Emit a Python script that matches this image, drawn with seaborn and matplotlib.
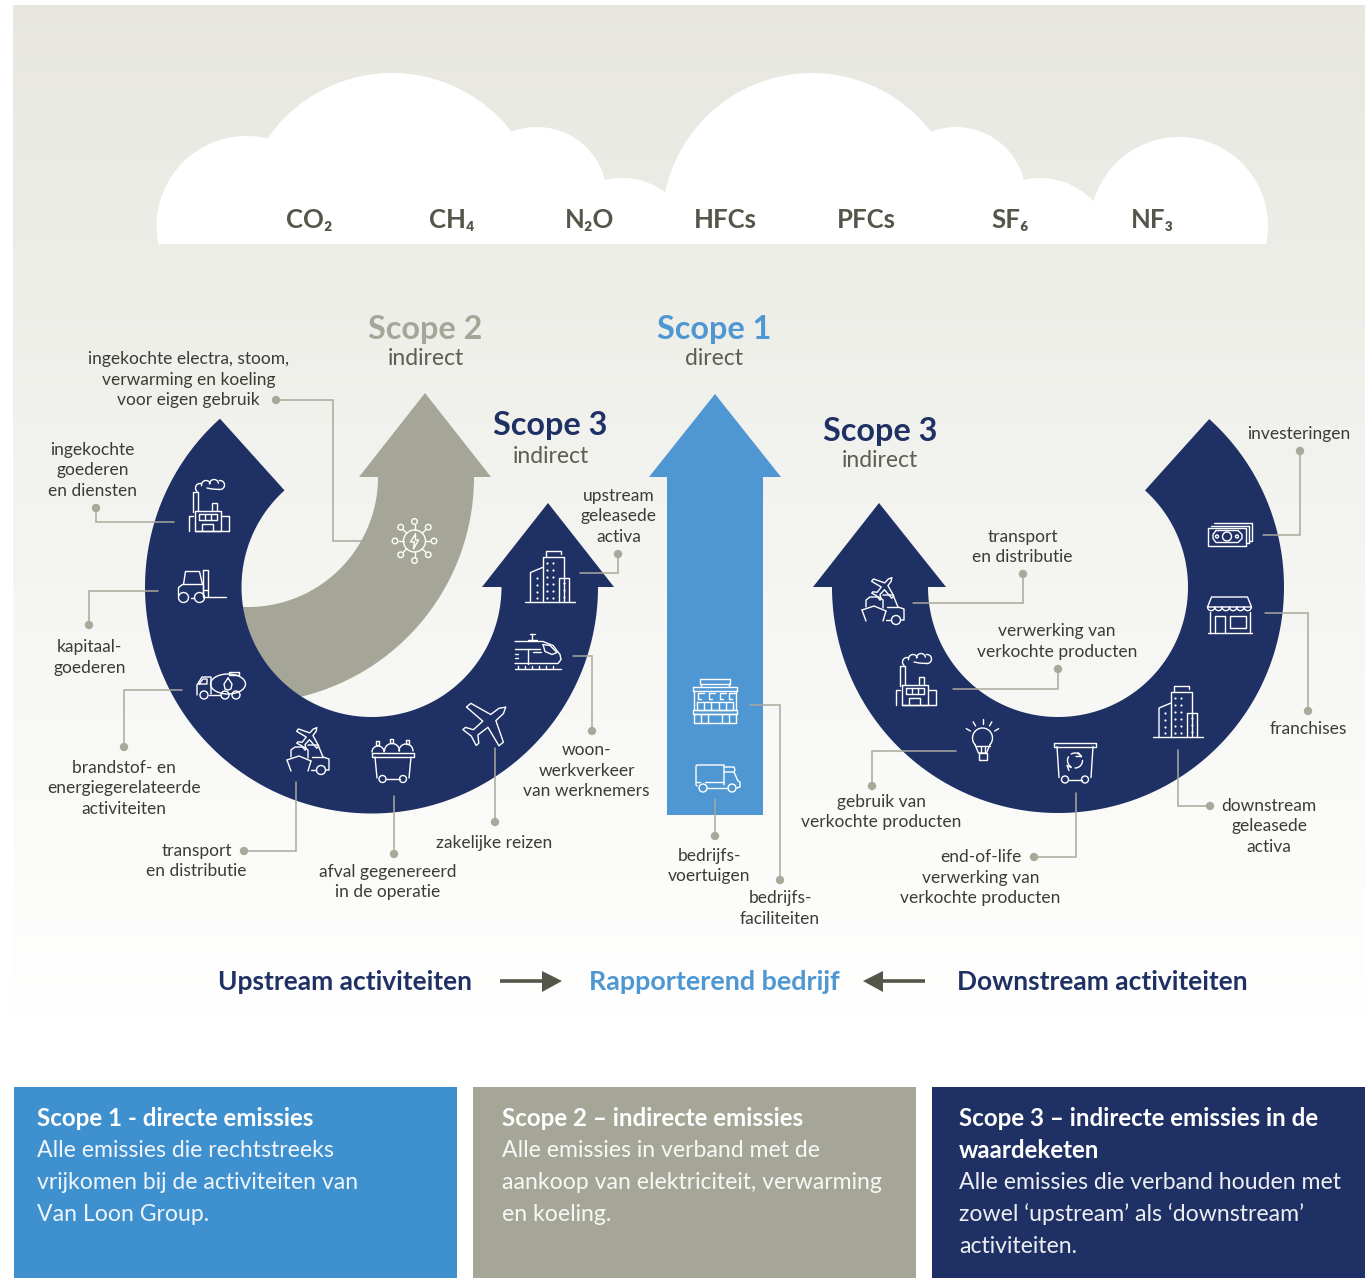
import numpy as np
import matplotlib
matplotlib.use("Agg")
import matplotlib.pyplot as plt
from matplotlib.patches import Polygon, Circle, Rectangle, Ellipse
import seaborn as sns

# data
gases = ["CO₂", "CH₄", "N₂O", "HFCs", "PFCs", "SF₆", "NF₃"]
scope_titles = ["Scope 2", "Scope 1", "Scope 3", "Scope 3"]
scope_subs = ["indirect", "direct", "indirect", "indirect"]
flow_labels = ["Upstream activiteiten", "Rapporterend bedrijf", "Downstream activiteiten"]

item_labels = [
    "ingekochte electra, stoom,\nverwarming en koeling\nvoor eigen gebruik",
    "ingekochte\ngoederen\nen diensten",
    "kapitaal-\ngoederen",
    "brandstof- en\nenergiegerelateerde\nactiviteiten",
    "transport\nen distributie",
    "afval gegenereerd\nin de operatie",
    "zakelijke reizen",
    "woon-\nwerkverkeer\nvan werknemers",
    "upstream\ngeleasede\nactiva",
    "bedrijfs-\nvoertuigen",
    "bedrijfs-\nfaciliteiten",
    "transport\nen distributie",
    "verwerking van\nverkochte producten",
    "gebruik van\nverkochte producten",
    "end-of-life\nverwerking van\nverkochte producten",
    "downstream\ngeleasede\nactiva",
    "franchises",
    "investeringen",
]

panel_titles = [
    ["Scope 1 - directe emissies"],
    ["Scope 2 – indirecte emissies"],
    ["Scope 3 – indirecte emissies in de", "waardeketen"],
]
panel_bodies = [
    ["Alle emissies die rechtstreeks", "vrijkomen bij de activiteiten van", "Van Loon Group."],
    ["Alle emissies in verband met de", "aankoop van elektriciteit, verwarming", "en koeling."],
    ["Alle emissies die verband houden met", "zowel ‘upstream’ als ‘downstream’", "activiteiten."],
]

NAVY = "#1F3064"
GREY = "#A6A698"
BLUE = "#4F97D3"
PANEL_BLUE = "#3F90CE"
DARK = "#55554A"
TEXT = "#3C3C36"
LEAD = "#A9A99B"

sns.set_theme(style="white")
plt.rcParams["font.family"] = ["Lato", "DejaVu Sans"]

W, H = 1365, 1278
fig = plt.figure(figsize=(W / 100, H / 100), dpi=100, facecolor="white")

# achtergrond verloop
ax_bg = fig.add_axes([13 / W, 1 - 1040 / H, (W - 13) / W, 1035 / H])
sns.heatmap(np.linspace(0, 1, 256)[:, None], ax=ax_bg, cbar=False, vmin=0, vmax=1,
            xticklabels=False, yticklabels=False,
            cmap=sns.blend_palette(["#E7E7E0", "#FFFFFF"], as_cmap=True))

ax = fig.add_axes([0, 0, 1, 1])
ax.set_xlim(0, W)
ax.set_ylim(H, 0)
ax.axis("off")
ax.patch.set_alpha(0)


def fill(pts, color, z=2):
    ax.add_patch(Polygon(pts, closed=True, facecolor=color, edgecolor="none", zorder=z))


def ring_pts(cx, cy, r0, r1, a0, a1):
    t = np.radians(np.linspace(a0, a1, 200))
    outer = np.c_[cx + r1 * np.cos(t), cy + r1 * np.sin(t)]
    inner = np.c_[cx + r0 * np.cos(t[::-1]), cy + r0 * np.sin(t[::-1])]
    return np.vstack([outer, inner])


# wolk
clip = Rectangle((0, 0), W, 244, transform=ax.transData)
for cx, cy, r in [(246.5, 226, 90), (392, 224, 151), (537, 197, 70), (622, 251, 73),
                  (812, 223, 150), (956, 197, 70), (1040, 251, 73), (1179, 226, 89)]:
    c = Circle((cx, cy), r, facecolor="white", edgecolor="none", zorder=1)
    ax.add_patch(c)
    c.set_clip_path(clip)
ax.add_patch(Rectangle((246, 205), 932, 39, facecolor="white", edgecolor="none", zorder=1))

for name, x in zip(gases, [309, 452, 589.5, 725, 866.5, 1010, 1152]):
    ax.text(x, 220, name, ha="center", va="center", fontsize=18.5, color=DARK, weight="bold", zorder=5)

# pijlen
fill(ring_pts(248, 477, 130, 226, 0, 100), GREY, 2)
fill([(359, 477), (425, 393), (491, 477)], GREY, 2)

fill(ring_pts(371.5, 587, 130, 226.5, 0, 228), NAVY, 3)
fill([(482, 587), (548, 503), (614, 587)], NAVY, 3)

fill(ring_pts(1058, 587, 130, 226, -48, 180), NAVY, 3)
fill([(813, 587), (879, 503), (946, 587)], NAVY, 3)

fill([(667, 815), (667, 477), (649, 477), (715, 394), (781, 477), (763, 477), (763, 815)], BLUE, 3)

# titels
for title, sub, col, (x, y0, y1) in zip(
        scope_titles, scope_subs, [GREY, BLUE, NAVY, NAVY],
        [(425.5, 329, 358.5), (714.5, 329, 358.5), (550.5, 426, 456.5), (880, 431, 460.5)]):
    ax.text(x, y0, title, ha="center", va="center", fontsize=23.3, color=col, weight="bold", zorder=5)
    ax.text(x, y1, sub, ha="center", va="center", fontsize=16.5, color="#5E5E52", zorder=5)

# labels
label_xy = [(188.5, 359), (92.5, 450), (89.5, 647), (124, 768), (196.5, 851), (387.5, 872),
            (494, 843), (586.5, 750), (618.5, 496), (709.5, 856), (780, 898), (1022.5, 537),
            (1057, 631), (881.5, 802), (980.5, 857), (1269, 806), (1308, 729), (1299, 434)]
for lab, (x, y) in zip(item_labels, label_xy):
    for i, line in enumerate(lab.split("\n")):
        ax.text(x, y + i * 20.5, line, ha="center", va="center", fontsize=12.55, color=TEXT, zorder=5)

# verbindingslijnen, eerste punt is de stip
leaders = [
    [(276, 400), (333, 400), (333, 541), (362, 541)],
    [(96, 508), (96, 522), (174, 522)],
    [(89, 625), (89, 591), (158, 591)],
    [(124, 747), (124, 690), (182, 690)],
    [(244, 851), (296, 851), (296, 782)],
    [(394, 854), (394, 796)],
    [(495, 822), (495, 748)],
    [(592, 731), (592, 656), (573, 656)],
    [(618, 554), (618, 573), (580, 573)],
    [(715, 836), (715, 799)],
    [(780, 880), (780, 705), (750, 705)],
    [(1023, 574), (1023, 603), (913, 603)],
    [(1058, 669), (1058, 689), (953, 689)],
    [(872, 786), (872, 751), (956, 751)],
    [(1034, 857), (1076, 857), (1076, 793)],
    [(1210, 806), (1178, 806), (1178, 750)],
    [(1308, 711), (1308, 613), (1265, 613)],
    [(1300, 451), (1300, 535), (1263, 535)],
]
for pts in leaders:
    xs, ys = zip(*pts)
    ax.plot(xs, ys, color=LEAD, lw=1.1, zorder=6, solid_joinstyle="miter")
    ax.add_patch(Circle(pts[0], 4.2, facecolor=LEAD, edgecolor="none", zorder=6))


# iconen
def ln(o, *pts, color="white", lw=1.0):
    xs = [o[0] + p[0] for p in pts]
    ys = [o[1] + p[1] for p in pts]
    ax.plot(xs, ys, color=color, lw=lw, zorder=7, solid_capstyle="round", solid_joinstyle="round")


def box(o, x0, y0, x1, y1):
    ln(o, (x0, y0), (x1, y0), (x1, y1), (x0, y1), (x0, y0))


def circ(o, x, y, r):
    ax.add_patch(Circle((o[0] + x, o[1] + y), r, fill=False, edgecolor="white", lw=1.0, zorder=7))


def arc(o, x, y, r, a0, a1):
    t = np.radians(np.linspace(a0, a1, 30))
    ln(o, *zip(x + r * np.cos(t), y + r * np.sin(t)))


def dots(o, pts):
    ax.scatter([o[0] + p[0] for p in pts], [o[1] + p[1] for p in pts], s=2.5, color="white", lw=0, zorder=7)


def plane(o, scale=1.0, rot=-38):
    shape = np.array([(20, 0), (15, -3), (6, -3.5), (-1, -22), (-6, -22), (-3, -3.5), (-14, -3), (-18, -9),
                      (-21, -9), (-19, 0), (-21, 9), (-18, 9), (-14, 3), (-3, 3.5), (-6, 22), (-1, 22),
                      (6, 3.5), (15, 3), (20, 0)], dtype=float) * scale
    a = np.radians(rot)
    rotm = np.array([[np.cos(a), -np.sin(a)], [np.sin(a), np.cos(a)]])
    ln(o, *[tuple(p) for p in shape @ rotm.T])


def factory(o):
    ln(o, (-16, 5), (-16, -15), (-11, -15), (-11, 4))
    arc(o, -9, -19, 4.5, 130, 290)
    arc(o, -3, -22, 4.5, 170, 340)
    arc(o, 5, -23, 4.5, 180, 350)
    arc(o, 11, -22, 4.5, -100, 100)
    ln(o, (11, -17.5), (3, -18), (-2, -19))
    box(o, -14, 4, 12, 24)
    box(o, -10, 7, 8, 13)
    ln(o, (-4, 7), (-4, 13))
    ln(o, (2, 7), (2, 13))
    ln(o, (-7, 24), (-7, 17), (4, 17), (4, 24))
    ln(o, (3, 3), (3, -4), (8, -4), (8, 3))
    ln(o, (12, 9), (20, 9), (20, 24), (-14, 24))
    ln(o, (-20, 24), (-20, 9), (-16, 9))


def forklift(o):
    circ(o, -18, 11, 5)
    circ(o, -2, 11, 5)
    ln(o, (-23, 9), (-23, 1), (-19, -2), (2, -2), (2, 8))
    ln(o, (-18, -2), (-16, -15), (-2, -15), (1, -2))
    ln(o, (-11, 11), (-8, 11))
    box(o, 1, -17, 6, 10)
    ln(o, (6, 10), (24, 10))
    ln(o, (2, 3), (6, 3))


def tanker(o):
    ax.add_patch(Ellipse((o[0] + 7, o[1] - 1), 35, 20, fill=False, edgecolor="white", lw=1.0, zorder=7))
    box(o, 8, -13, 18, -10.5)
    ln(o, (7, -7), (3, -1), (4, 4), (7, 5), (10, 4), (11, -1), (7, -7))
    ln(o, (-24, 10), (-24, 0), (-19, -8), (-10, -8), (-10, 9))
    ln(o, (-22, -1), (-18, -6), (-14, -6), (-14, -1), (-22, -1))
    circ(o, -17, 10, 4)
    circ(o, 4, 10, 4)
    circ(o, 15, 10, 4)
    ln(o, (-12, 10), (-1, 10))


def transport(o):
    plane((o[0] + 1, o[1] - 14), 0.6, -50)
    ln(o, (-21, 9), (-17, 20))
    ln(o, (3, 10), (0, 20))
    ln(o, (-21, 9), (-9, 5), (3, 10))
    ln(o, (-17, 6), (-17, -1), (-13, -4), (-4, -4), (0, -1), (0, 7))
    ln(o, (0, -6), (10, -6), (15, 6), (21, 8), (21, 19), (18, 19))
    ln(o, (4, 6), (15, 6))
    circ(o, 13, 19, 4.5)
    ln(o, (8, 19), (3, 19))


def cart(o):
    box(o, -21, -7, 21, -3)
    ln(o, (-18, -3), (-16, 18))
    ln(o, (18, -3), (16, 18))
    circ(o, -10.5, 19, 3.5)
    circ(o, 10, 19, 3.5)
    ln(o, (-7, 19), (6.5, 19))
    arc(o, -15, -8, 6, 180, 360)
    arc(o, -1, -9, 7.5, 180, 360)
    arc(o, 13, -9, 7, 180, 360)
    box(o, -17, -19, -14, -15)
    box(o, -3, -21, 0, -17)
    box(o, 13, -20, 16, -16)


def train(o):
    ln(o, (-23, -10), (5, -10), (15, -6), (22, 3), (23, 8), (20, 12), (-23, 12))
    ln(o, (5, -7), (12, -6), (19, 1), (14, 3), (7, 0), (5, -7))
    ln(o, (-23, -3), (-10, -3), (-10, 12))
    ln(o, (-10, -3), (2, -3))
    ln(o, (-5, 0), (3, 0))
    ln(o, (-23, 2), (-20, 2))
    ln(o, (-23, 6), (-20, 6))
    ln(o, (-8, -18), (-3, -18))
    ln(o, (-6, -18), (-6, -11))
    ln(o, (-10, -12), (-1, -12))
    ln(o, (-23, 17), (23, 17))
    for x in range(-20, 21, 7):
        ln(o, (x, 14), (x, 16))


def building(o):
    ln(o, (-25, 25), (25, 25))
    ln(o, (-7, 25), (-7, -20), (14, -20), (14, 25))
    ln(o, (-4, -21), (-4, -26), (11, -26), (11, -23))
    ln(o, (-19, 25), (-19, -4), (-7, -9))
    ln(o, (9, 25), (9, 1), (19, 1), (19, 25))
    dots(o, [(-3, y) for y in (-14, -7, 0, 7, 14, 21)] + [(3, y) for y in (-14, -7, 0, 7, 14, 21)] +
         [(-13, y) for y in (1, 8, 15, 21)] + [(14, y) for y in (6, 13, 20)])


def money(o):
    box(o, -22, -7, 16, 11)
    ln(o, (-19, -9), (19, -9), (19, 8), (16, 8))
    ln(o, (-16, -11.5), (22, -11.5), (22, 6), (19, 6))
    ln(o, (-14, -4), (8, -4), (12, 0), (12, 4), (8, 8), (-14, 8), (-17, 4), (-17, 0), (-14, -4))
    circ(o, -3, 2, 4.5)
    circ(o, -13, 2, 1.5)
    circ(o, 7, 2, 1.5)


def shop(o):
    ln(o, (-22, -8), (-18, -18), (18, -18), (22, -8), (-22, -8))
    for x in np.arange(-18.3, 22, 7.3):
        arc(o, x, -8, 3.65, 0, 180)
    ln(o, (-20, -3), (-20, 18))
    ln(o, (20, -3), (20, 18))
    ln(o, (-22, 18), (22, 18))
    ln(o, (-15, 18), (-15, 1), (-5, 1), (-5, 18))
    box(o, 0, 1, 16, 13)


def bulb(o):
    arc(o, 0, -7, 10, 140, 400)
    ln(o, (-7.6, -0.6), (-4, 8), (4, 8), (7.6, -0.6))
    ln(o, (-7, 1), (7, 1))
    box(o, -4, 8, 4, 15)
    ln(o, (-2, 1), (-2, 7))
    ln(o, (2, 1), (2, 7))
    for a in (-150, -120, -90, -60, -30):
        t = np.radians(a)
        ln(o, (14 * np.cos(t), -7 + 14 * np.sin(t)), (17 * np.cos(t) * 1.1, -7 + 17 * np.sin(t) * 1.1))


def trashbin(o):
    box(o, -21, -20, 21, -16)
    ln(o, (-18, -16), (-16, 15))
    ln(o, (18, -16), (16, 15))
    circ(o, -10, 17, 3.5)
    circ(o, 10, 17, 3.5)
    ln(o, (-6.5, 17), (6.5, 17))
    arc(o, 0, -2, 7.5, -120, -30)
    arc(o, 0, -2, 7.5, 0, 90)
    arc(o, 0, -2, 7.5, 120, 210)
    ln(o, (3, -10), (6.5, -6), (1, -6))
    ln(o, (-4, 5), (-8, 3), (-6, 8))


def grid(o):
    circ(o, 0, 0, 11)
    ln(o, (1, -7), (-4, 1), (0, 1), (-1, 8), (4, -1), (1, -1), (1, -7))
    for a in range(0, 360, 45):
        t = np.radians(a)
        ln(o, (11 * np.cos(t), 11 * np.sin(t)), (16 * np.cos(t), 16 * np.sin(t)))
        circ(o, 19.5 * np.cos(t), 19.5 * np.sin(t), 2.8)


def storefront(o):
    box(o, -15, -22, 15, -17)
    ln(o, (-14, -17), (-14, -14))
    ln(o, (14, -17), (14, -14))
    box(o, -22, -14, 22, -10)
    ln(o, (-21, -10), (-21, 9))
    ln(o, (21, -10), (21, 9))
    for x in (-17, -6, 5, 14):
        ln(o, (x + 6, -8), (x, -8), (x, -2), (x + 3, -2))
    box(o, -18, 1, 18, 9)
    for x in (-11, -4, 4, 11):
        ln(o, (x, 1), (x, 9))
    box(o, -22, 9, 22, 13)
    box(o, -21, 13, 21, 22)
    for x in (-14, -7, 7, 14):
        ln(o, (x, 13), (x, 22))


def truck(o):
    ln(o, (-21, 8), (-22, 7), (-22, -12), (-21, -13), (6, -13), (6, 7))
    ln(o, (6, -11), (16, -11), (17, -8), (16, -6), (6, -6))
    ln(o, (16, -6), (20, 3), (22, 4), (22, 9), (19, 10))
    circ(o, -15, 10, 4)
    circ(o, 14, 10, 4)
    ln(o, (-11, 10), (10, 10))
    ln(o, (-22, 4), (-18, 4))
    ln(o, (-13, 4), (6, 4))


factory((209, 507))
forklift((201.5, 586.5))
tanker((221, 685))
transport((308, 751))
cart((393, 760))
plane((488, 722), 1.15, -40)
train((538, 651.5))
building((549.5, 576.5))
grid((414.5, 541))
storefront((714.5, 700.5))
truck((718, 778))
transport((883, 601))
factory((916, 681))
bulb((982.5, 745))
trashbin((1075, 762.5))
building((1178, 712))
shop((1229.5, 615))
money((1230, 534.5))

# stroom
for label, x, fs in zip(flow_labels, [344.5, 714.5, 1102.5], [19, 19.4, 19]):
    col = BLUE if "Rapporterend" in label else NAVY
    ax.text(x, 982, label, ha="center", va="center", fontsize=fs, weight="bold", color=col, zorder=5)

ax.plot([500, 547], [981, 981], color=DARK, lw=2.6, zorder=5, solid_capstyle="butt")
fill([(542, 971), (562, 981), (542, 992)], DARK, 5)
ax.plot([878, 925], [981, 981], color=DARK, lw=2.6, zorder=5, solid_capstyle="butt")
fill([(883, 971), (863, 981), (883, 992)], DARK, 5)

# panelen onder
for (x0, x1, tx, col), titles, body in zip(
        [(14, 457, 37, PANEL_BLUE), (473, 916, 502, GREY), (932, 1365, 959, NAVY)], panel_titles, panel_bodies):
    ax.add_patch(Rectangle((x0, 1087), x1 - x0, 191, facecolor=col, edgecolor="none", zorder=2))
    y = 1118.5
    for t in titles:
        ax.text(tx, y, t, va="center", ha="left", fontsize=17.4, weight="bold", color="white", zorder=5)
        y += 32
    for t in body:
        ax.text(tx, y, t, va="center", ha="left", fontsize=16.6, color="white", alpha=0.92, zorder=5)
        y += 32

fig.savefig("out.png", dpi=100, facecolor="white")
